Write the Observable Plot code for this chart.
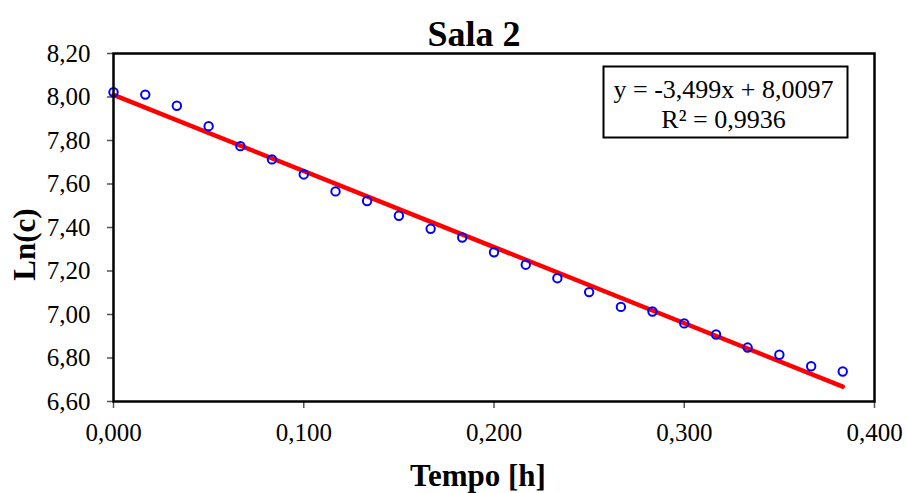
<!DOCTYPE html>
<html>
<head>
<meta charset="utf-8">
<script src="https://cdn.jsdelivr.net/npm/d3@7"></script>
<script src="https://cdn.jsdelivr.net/npm/@observablehq/plot@0.6"></script>
<style>
  html, body { margin: 0; padding: 0; background: #fff; }
  #chart svg { display: block; }
</style>
</head>
<body>
<div id="chart"></div>
<script>
// ---- Data ----
const tempo = [0, 0.0167, 0.0333, 0.05, 0.0667, 0.0833, 0.1, 0.1167, 0.1333, 0.15, 0.1667, 0.1833,
               0.2, 0.2167, 0.2333, 0.25, 0.2667, 0.2833, 0.3, 0.3167, 0.3333, 0.35, 0.3667, 0.3833];
const lnC = [8.022, 8.011, 7.960, 7.866, 7.774, 7.713, 7.644, 7.566, 7.522, 7.454, 7.394, 7.354,
             7.286, 7.229, 7.167, 7.103, 7.035, 7.014, 6.959, 6.908, 6.848, 6.815, 6.762, 6.738];
const trendSlope = -3.499;
const trendIntercept = 8.0097;
const xTicks = [0, 0.1, 0.2, 0.3, 0.4];
const yTicks = [6.6, 6.8, 7.0, 7.2, 7.4, 7.6, 7.8, 8.0, 8.2];
const titleText = "Sala 2";
const xLabel = "Tempo [h]";
const yLabel = "Ln(c)";
const equationText = ["y = -3,499x + 8,0097", "R² = 0,9936"];

// ---- Derived ----
const points = tempo.map((t, i) => ({t, v: lnC[i]}));
const tMin = d3.min(tempo), tMax = d3.max(tempo);
const trend = [tMin, tMax].map(t => ({t, v: trendSlope * t + trendIntercept}));

const loc = d3.formatLocale({decimal: ",", thousands: ".", grouping: [3], currency: ["", ""]});
const fx = loc.format(".3f");
const fy = loc.format(".2f");

const serif = "'Liberation Serif', 'Times New Roman', Times, serif";

const chart = Plot.plot({
  width: 907,
  height: 493,
  marginLeft: 113,
  marginRight: 33,
  marginTop: 53,
  marginBottom: 92,
  style: {fontFamily: serif, background: "#fff", color: "#000", overflow: "visible"},
  x: {domain: [0, 0.4]},
  y: {domain: [6.6, 8.2]},
  marks: [
    Plot.axisX({ticks: xTicks, tickFormat: fx, tickSize: 7, tickPadding: 15, fontSize: 25,
                stroke: "#555", strokeWidth: 1.5, fill: "#000", label: null}),
    Plot.axisY({ticks: yTicks, tickFormat: fy, tickSize: 6, tickPadding: 17, fontSize: 25,
                stroke: "#555", strokeWidth: 1.5, fill: "#000", label: null}),
    Plot.line(trend, {x: "t", y: "v", stroke: "#ff0000", strokeWidth: 4.5}),
    Plot.dot(points, {x: "t", y: "v", r: 4.2, stroke: "#0000ff", strokeWidth: 2, fill: "none"}),
    Plot.frame({stroke: "#000", strokeWidth: 2.5}),
    // equation box
    Plot.frame({stroke: "#000", strokeWidth: 2, insetLeft: 490, insetRight: 27, insetTop: 13, insetBottom: 264}),
    Plot.text([equationText.join("\n")], {frameAnchor: "top-right", textAnchor: "middle", lineAnchor: "bottom",
               dx: -151, dy: 74, fontSize: 26, lineHeight: 1.154, fill: "#000"}),
    // title
    Plot.text([titleText], {frameAnchor: "top", lineAnchor: "bottom", dx: -20, dy: -8,
               fontSize: 36, fontWeight: "bold", fill: "#000"}),
    // x label
    Plot.text([xLabel], {frameAnchor: "bottom", lineAnchor: "bottom", dx: -16, dy: 84,
               fontSize: 31, fontWeight: "bold", fill: "#000"}),
    // y label
    Plot.text([yLabel], {frameAnchor: "left", textAnchor: "middle", lineAnchor: "bottom", rotate: -90,
               dx: -79, dy: 17, fontSize: 31, fontWeight: "bold", fill: "#000"})
  ]
});
document.getElementById("chart").appendChild(chart);
</script>
</body>
</html>
